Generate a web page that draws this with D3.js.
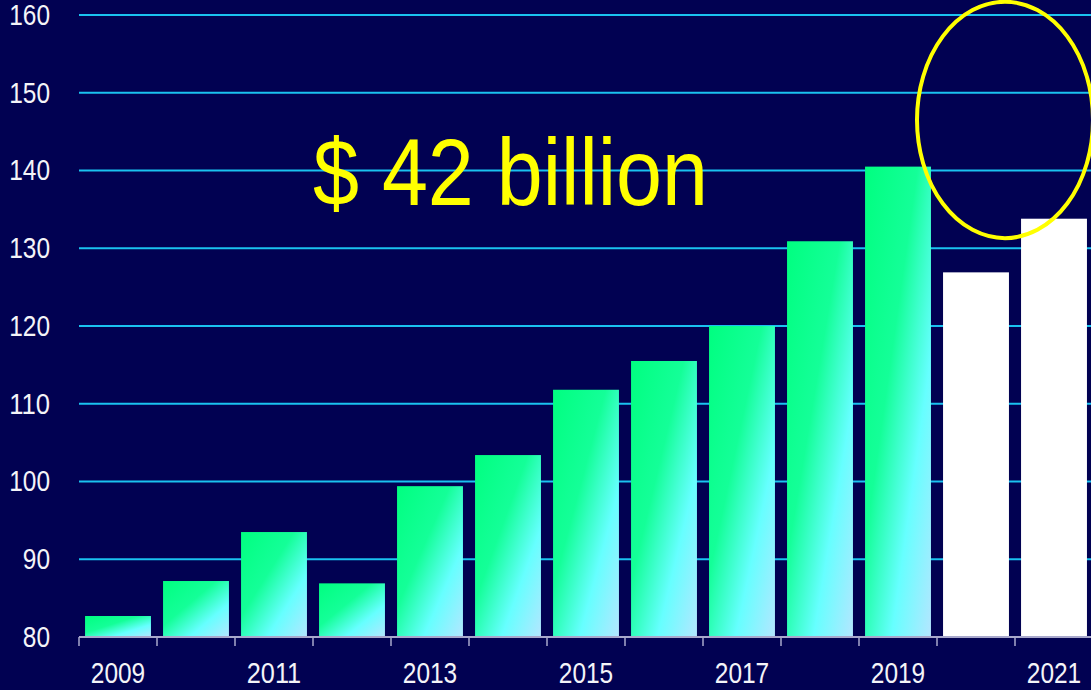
<!DOCTYPE html>
<html>
<head>
<meta charset="utf-8">
<script src="https://cdn.jsdelivr.net/npm/d3@7"></script>
<style>
html, body { margin: 0; padding: 0; background: #010152; overflow: hidden; }
svg { display: block; }
.axis text { font-family: "Liberation Sans Narrow", "Arial Narrow", "Liberation Sans", sans-serif; fill: #f4f4f8; }
</style>
</head>
<body>
<script>
var years = ['2009', '2010', '2011', '2012', '2013', '2014', '2015', '2016', '2017', '2018', '2019', '2020', '2021']
var values = [82.7, 87.2, 93.5, 86.9, 99.4, 103.4, 111.8, 115.5, 120.0, 130.9, 140.5, 126.9, 133.8]
var forecastYears = ['2020', '2021']
var yTicks = [80, 90, 100, 110, 120, 130, 140, 150, 160]
var xLabels = ['2009', '2011', '2013', '2015', '2017', '2019', '2021']
var headline = '$ 42 billion'

var W = 1091, H = 690
var margin = { top: 15, right: -2, bottom: 53, left: 79 }
var width = W - margin.left - margin.right
var height = H - margin.top - margin.bottom
var digitW = 13.6  // condensed digit width

var data = years.map(function (y, i) { return { year: y, value: values[i] } })

var svg = d3.select('body').append('svg')
    .attr('width', W)
    .attr('height', H)

var defs = svg.append('defs')
var grad = defs.append('linearGradient')
    .attr('id', 'barGrad')
    .attr('x1', 0).attr('y1', 0).attr('x2', 1).attr('y2', 1)
grad.append('stop').attr('offset', '0%').attr('stop-color', '#00ff80')
grad.append('stop').attr('offset', '40%').attr('stop-color', '#14ff98')
grad.append('stop').attr('offset', '70%').attr('stop-color', '#66ffff')
grad.append('stop').attr('offset', '100%').attr('stop-color', '#b4e6ff')

var g = svg.append('g')
    .attr('transform', 'translate(' + margin.left + ',' + margin.top + ')')

var x = d3.scaleBand()
    .domain(years)
    .range([0, width])
    .paddingInner(0.155)
    .paddingOuter(0.0775)
    .align(0.5)

var xb = d3.scaleBand().domain(years).range([0, width])

var y = d3.scaleLinear()
    .domain([80, 160])
    .range([height, 0])

// gridlines
g.append('g')
    .selectAll('line')
    .data(yTicks.slice(1))
    .enter().append('line')
    .attr('x1', 0)
    .attr('x2', width)
    .attr('y1', function (d) { return y(d) })
    .attr('y2', function (d) { return y(d) })
    .attr('stroke', '#1ac2f0')
    .attr('stroke-width', 2)

// bars
g.append('g')
    .selectAll('rect')
    .data(data)
    .enter().append('rect')
    .attr('x', function (d) { return x(d.year) })
    .attr('width', x.bandwidth())
    .attr('y', function (d) { return y(d.value) })
    .attr('height', function (d) { return y(80) - y(d.value) })
    .attr('fill', function (d) {
        return forecastYears.indexOf(d.year) >= 0 ? '#ffffff' : 'url(#barGrad)'
    })

// y axis labels
var yAxis = d3.axisLeft(y)
    .tickValues(yTicks)
    .tickSize(0)
    .tickPadding(29)
g.append('g')
    .attr('class', 'axis')
    .call(yAxis)
    .call(function (s) { s.select('.domain').remove() })
    .selectAll('text')
    .attr('font-size', 29)
    .attr('lengthAdjust', 'spacingAndGlyphs')
    .attr('textLength', function (d) { return String(d).length * digitW })

// x axis: ticks at band boundaries
var xAxisG = g.append('g')
    .attr('class', 'axis')
    .attr('transform', 'translate(0,' + height + ')')

xAxisG.append('line')
    .attr('x1', 0).attr('x2', width)
    .attr('stroke', '#a8a8cc')
    .attr('stroke-width', 2)

xAxisG.selectAll('.tick')
    .data(years)
    .enter().append('line')
    .attr('class', 'tick')
    .attr('x1', function (d) { return xb(d) })
    .attr('x2', function (d) { return xb(d) })
    .attr('y1', 0).attr('y2', 9)
    .attr('stroke', '#a8a8cc')
    .attr('stroke-width', 1.5)

xAxisG.selectAll('text')
    .data(xLabels)
    .enter().append('text')
    .attr('x', function (d) { return xb(d) + xb.bandwidth() / 2 })
    .attr('y', 46)
    .attr('text-anchor', 'middle')
    .attr('font-size', 29)
    .attr('lengthAdjust', 'spacingAndGlyphs')
    .attr('textLength', function (d) { return d.length * digitW })
    .text(function (d) { return d })

// headline annotation
g.append('text')
    .attr('x', xb('2012'))
    .attr('y', y(135.6))
    .attr('font-family', '"Liberation Sans Narrow", "Arial Narrow", sans-serif')
    .attr('font-size', 94)
    .attr('fill', '#ffff00')
    .attr('lengthAdjust', 'spacingAndGlyphs')
    .attr('textLength', 395)
    .text(headline)

// circle around forecast
g.append('ellipse')
    .attr('cx', xb('2021') - 10)
    .attr('cy', y(146.5))
    .attr('rx', 88)
    .attr('ry', y(146.5) - y(161.7))
    .attr('fill', 'none')
    .attr('stroke', '#ffff00')
    .attr('stroke-width', 4)
</script>
</body>
</html>
